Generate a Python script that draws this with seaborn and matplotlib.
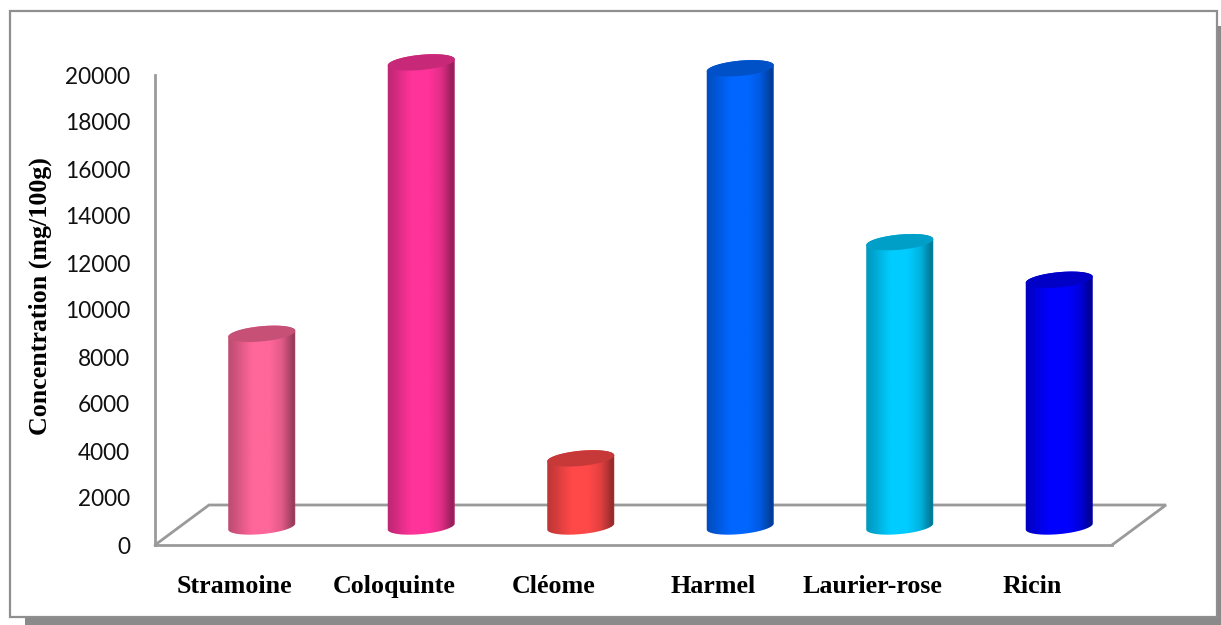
import numpy as np
import matplotlib
matplotlib.use("Agg")
import matplotlib.pyplot as plt
from matplotlib.colors import LinearSegmentedColormap, to_rgb
from matplotlib.patches import Polygon, Rectangle
import seaborn as sns

categories = ["Stramoine", "Coloquinte", "Cléome", "Harmel", "Laurier-rose", "Ricin"]
concentrations = [8200, 19750, 2900, 19500, 12100, 10500]
bar_colors = ["#FF6699", "#FF3399", "#FF4848", "#0066FF", "#00CCFF", "#0000FF"]
y_ticks = list(range(0, 20001, 2000))

W, H = 1221, 625
GREY = "#9A9A9A"

sns.set_theme(style="white")
fig = plt.figure(figsize=(W / 100, H / 100), dpi=100, facecolor="white")


def px_box(left, top, right, bottom):
    """Figure-fraction [x, y, w, h] from pixel edges measured from the top-left."""
    return [left / W, 1 - bottom / H, (right - left) / W, (bottom - top) / H]


def fig_rect(left, top, right, bottom, **kw):
    x, y, w, h = px_box(left, top, right, bottom)
    fig.add_artist(Rectangle((x, y), w, h, transform=fig.transFigure, zorder=-1, **kw))


# Drop shadow and white panel behind the chart
fig_rect(25, 26, W, H, facecolor="#8A8A8A", edgecolor="none")
fig_rect(9.5, 11, 1217, 617, facecolor="white", edgecolor="#8F8F8F", linewidth=1.6)

# Front plane of the chart: value axis and category labels
ax = fig.add_axes(px_box(155, 75, 1112, 545), facecolor="none")
ax.set_xlim(-0.5, 5.5)
ax.set_ylim(0, 20000)
ax.set_yticks(y_ticks)
ax.set_yticklabels([str(t) for t in y_ticks], family="Lato", fontsize=16.3, color="#111111")
ax.set_xticks(range(len(categories)))
ax.set_xticklabels(categories, family="Liberation Serif", fontweight="bold", fontsize=18.7, color="black")
ax.tick_params(axis="y", length=0, pad=18)
ax.tick_params(axis="x", length=0, pad=21.5)
ax.grid(False)
sns.despine(ax=ax, top=True, right=True)
for name in ("left", "bottom"):
    ax.spines[name].set_color(GREY)
    ax.spines[name].set_linewidth(2)
ax.set_ylabel("Concentration (mg/100g)", family="Liberation Serif", fontweight="bold",
              fontsize=18.7, color="black")
ax.yaxis.set_label_coords((52.5 - 155) / 957, (545 - 296) / 470)

# Receding floor outline
depth_x = 54 / 159.5
depth_y = 40 * 20000 / 470
ax.plot([-0.5, -0.5 + depth_x, 5.5 + depth_x, 5.5],
        [0, depth_y, depth_y, 0], color=GREY, lw=2, clip_on=False, solid_joinstyle="miter")

# Cylinders sit on a second axes pushed back into the floor; its value range
# runs past both ends so the rounded caps have room
y_low, y_high = -1000, 21000
uy = 20000 / 470
margin_px = 1000 / uy
shift_x, shift_y = 27, 18.5
bx = fig.add_axes(px_box(155 + shift_x, 75 - shift_y - margin_px,
                         1112 + shift_x, 545 - shift_y + margin_px),
                  facecolor="none")
bar_w = 67 / 159.5
sns.barplot(x=categories, y=concentrations, hue=categories, palette=bar_colors, saturation=1,
            width=bar_w, legend=False, ax=bx, order=categories)
bx.axis("off")

# Pixel-to-data factors for the round ends of each cylinder
ux = 1 / 159.5
semi_a, semi_b, shear = 33.5, 7.6, 0.09


def end_cap(xc, yc, t):
    xp = semi_a * np.cos(t)
    yp = semi_b * np.sin(t) + shear * xp
    return xc + xp * ux, yc + yp * uy


def shade(col, k):
    return tuple(np.array(to_rgb(col)) * k)


for bar, value, col in zip(list(bx.patches), concentrations, bar_colors):
    xc = bar.get_x() + bar.get_width() / 2
    low = np.linspace(np.pi, 2 * np.pi, 50)
    high = np.linspace(0, np.pi, 50)
    outline = np.vstack([np.column_stack(end_cap(xc, 0, low)),
                         np.column_stack(end_cap(xc, value, high))])
    body = Polygon(outline, closed=True, facecolor="none", edgecolor="none",
                   transform=bx.transData)
    bx.add_patch(body)
    cmap = LinearSegmentedColormap.from_list(
        "cyl",
        [(0.0, shade(col, 0.74)), (0.12, shade(col, 0.82)), (0.35, shade(col, 1.0)),
         (0.62, shade(col, 1.0)), (0.80, shade(col, 0.88)), (0.97, shade(col, 0.58)),
         (1.0, shade(col, 0.7))])
    span = 34 * ux
    img = bx.imshow(np.linspace(0, 1, 128).reshape(1, -1), cmap=cmap, aspect="auto",
                    extent=(xc - span, xc + span, -600, value + 600), zorder=3,
                    interpolation="bilinear")
    img.set_clip_path(body)
    bar.set_visible(False)
    t = np.linspace(0, 2 * np.pi, 100)
    bx.add_patch(Polygon(np.column_stack(end_cap(xc, value, t)), closed=True,
                         facecolor=shade(col, 0.78), edgecolor="none", zorder=4))

bx.set_xlim(-0.5, 5.5)
bx.set_ylim(y_low, y_high)

fig.savefig("out.png", dpi=100, facecolor="white")
